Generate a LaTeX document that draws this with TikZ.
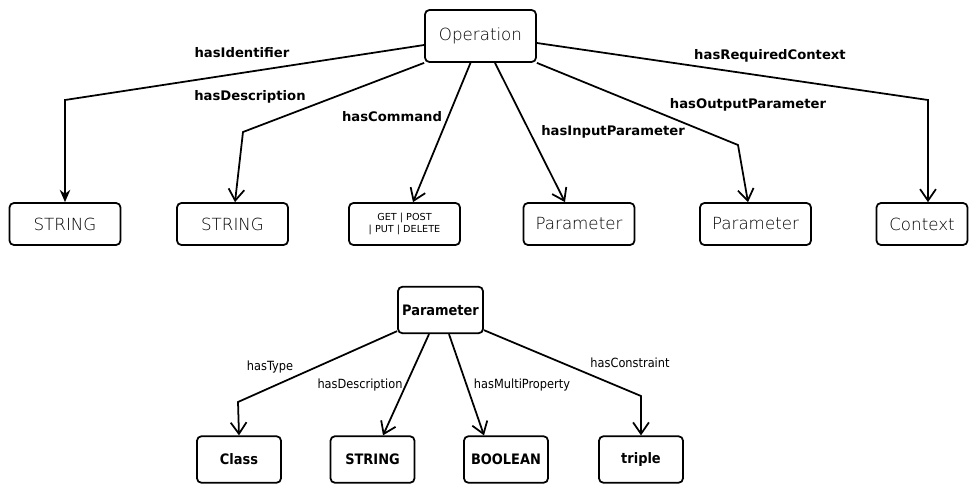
\documentclass[tikz,border=0pt]{standalone}
\usepackage{fontspec}
\setmainfont{DejaVu Sans}
\newfontfamily\condfont{DejaVu Sans Condensed}
\newfontfamily\lightfont{DejaVu Sans ExtraLight}
\usetikzlibrary{arrows.meta, positioning}
\tikzstyle{topbox}=[draw, rounded corners=2.5pt, line width=1pt, minimum width=2.22cm, minimum height=0.84cm, inner sep=1pt, align=center, font=\lightfont\fontsize{9.5}{11}\selectfont]
\tikzstyle{botbox}=[draw, rounded corners=2.5pt, line width=1pt, minimum width=1.68cm, minimum height=0.93cm, inner sep=1pt, font=\condfont\bfseries\fontsize{8.2}{9}\selectfont]
\tikzstyle{link}=[line width=1pt, -{Straight Barb[length=6.5pt,width=9pt]}]
\tikzstyle{solidlink}=[line width=1pt, -{Stealth[length=7pt,width=6pt]}]
\tikzstyle{toplabel}=[inner sep=0pt, font=\bfseries\fontsize{7.5}{9}\selectfont]
\tikzstyle{botlabel}=[inner sep=0pt, font=\condfont\fontsize{7.2}{8}\selectfont]

\begin{document}
\begin{tikzpicture}[x=0.02cm, y=-0.02cm]
		\useasboundingbox (0,0) rectangle (977,484);

		% upper diagram
		\node[topbox, minimum height=1.04cm] (op) at (480.5, 36) {Operation};
		\node[topbox] (str1) at (65, 224) {STRING};
		\node[topbox] (str2) at (232.5, 224) {STRING};
		\node[topbox, font=\fontsize{5.5}{6.8}\selectfont] (cmd) at (404.5, 224) {GET | POST\\| PUT | DELETE};
		\node[topbox] (inpar) at (579, 224) {Parameter};
		\node[topbox] (outpar) at (755.5, 224) {Parameter};
		\node[topbox, minimum width=1.82cm] (ctx) at (922, 224) {Context};

		\draw[solidlink] ([yshift=-0.18cm]op.west) -- (65, 100) -- (str1.north);
		\draw[link] (op.south west) -- (243, 132) -- ([xshift=0.05cm]str2.north);
		\draw[link] ([xshift=-0.2cm]op.south) -- ([xshift=0.17cm]cmd.north);
		\draw[link] ([xshift=0.29cm]op.south) -- ([xshift=-0.28cm]inpar.north);
		\draw[link] (op.south east) -- (738, 145) -- ([xshift=-0.15cm]outpar.north);
		\draw[link] ([yshift=-0.14cm]op.east) -- (928, 100) -- ([xshift=0.12cm]ctx.north);

		\node[toplabel] (l1) at (242, 53) {hasIdentifier};
		\node[toplabel] (l2) at (250, 97) {hasDescription};
		\node[toplabel] (l3) at (392, 117) {hasCommand};
		\node[toplabel] (l4) at (613, 132) {hasInputParameter};
		\node[toplabel] (l5) at (748, 105) {hasOutputParameter};
		\node[toplabel] (l6) at (770, 56) {hasRequiredContext};

		% lower diagram
		\node[botbox, minimum width=1.7cm] (par) at (440.5, 310) {Parameter};
		\node[botbox] (cls) at (239, 459.5) {Class};
		\node[botbox] (str3) at (372.5, 459.5) {STRING};
		\node[botbox] (bool) at (506, 459.5) {BOOLEAN};
		\node[botbox] (trip) at (641, 459.5) {triple};

		\draw[link] ([yshift=0.06cm]par.south west) -- (238, 402) -- (cls.north);
		\draw[link] ([xshift=-0.23cm]par.south) -- ([xshift=0.21cm]str3.north);
		\draw[link] ([xshift=0.17cm]par.south) -- ([xshift=-0.44cm]bool.north);
		\draw[link] ([yshift=0.08cm]par.south east) -- (641, 396) -- (trip.north);

		\node[botlabel] (m1) at (270, 367) {hasType};
		\node[botlabel] (m2) at (360, 385) {hasDescription};
		\node[botlabel] (m3) at (522, 385) {hasMultiProperty};
		\node[botlabel] (m4) at (630, 363) {hasConstraint};

	\end{tikzpicture}
\end{document}
